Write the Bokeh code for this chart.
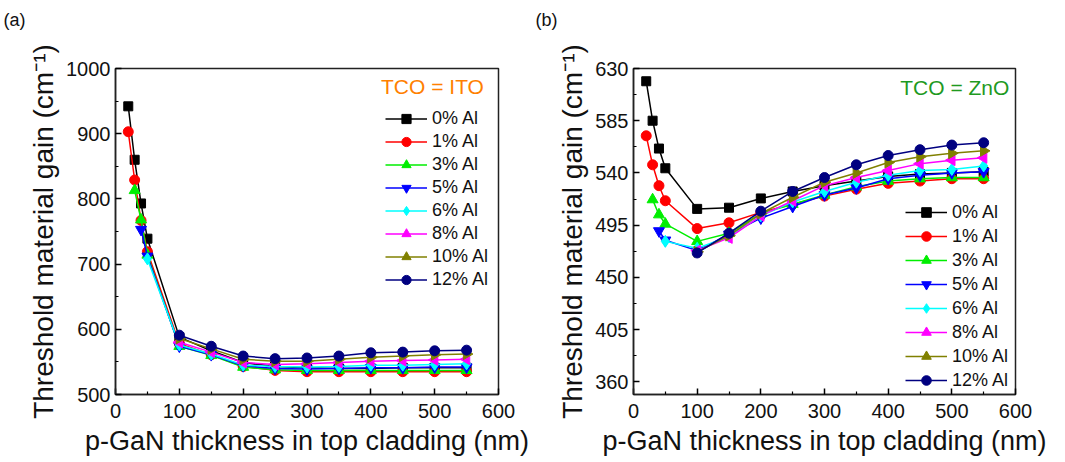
import math
from bokeh.plotting import figure
from bokeh.layouts import row
from bokeh.models import FixedTicker, Legend, LegendItem, Label, Range1d, Title
from bokeh.embed import file_html
from bokeh.resources import INLINE

# ---------------- data ----------------
thickness = [20, 30, 40, 50, 100, 150, 200, 250, 300, 350, 400, 450, 500, 550]
series_labels = ["0% Al", "1% Al", "3% Al", "5% Al", "6% Al", "8% Al", "10% Al", "12% Al"]

# (a) TCO = ITO
ito_0 = [942, 860, 793, 739, 588, 567, 549, 543, 541, 540, 540, 541, 541, 541]
ito_1 = [903, 829, 767, 719, 578, 561, 543, 537, 535, 535, 535, 535, 535, 535]
ito_3 = [813, 768, 714, 574, 560, 542, 538, 537, 537, 537, 537, 537, 537]
ito_5 = [753, 712, 574, 561, 544, 540, 539, 540, 541, 541, 542, 542]
ito_6 = [708, 576, 562, 545, 543, 542, 543, 545, 545, 546, 547]
ito_8 = [580, 565, 549, 546, 547, 549, 551, 552, 553, 554]
ito_10 = [586, 570, 554, 551, 551, 554, 557, 559, 561, 562]
ito_12 = [591, 574, 559, 555, 556, 559, 564, 565, 567, 568]

# (b) TCO = ZnO
zno_0 = [619, 585, 561, 544, 509, 510, 518, 524, 529, 533, 537, 539, 540, 541]
zno_1 = [572, 547, 529, 516, 492, 497, 506, 513, 520, 526, 531, 533, 535, 535]
zno_3 = [517, 504, 496, 481, 488, 505, 513, 521, 528, 533, 535, 536, 536]
zno_5 = [490, 482, 473, 487, 501, 511, 521, 527, 535, 538, 540, 541]
zno_6 = [481, 475, 485, 503, 515, 524, 532, 538, 542, 543, 546]
zno_8 = [473, 484, 503, 516, 529, 536, 542, 548, 551, 553]
zno_10 = [472, 486, 505, 519, 532, 540, 549, 554, 557, 559]
zno_12 = [471, 488, 507, 524, 536, 547, 555, 560, 564, 566]

x_ticks = [0, 100, 200, 300, 400, 500, 600]
x_minor = [50, 150, 250, 350, 450, 550]
ito_y_ticks = [500, 600, 700, 800, 900, 1000]
ito_y_minor = [550, 650, 750, 850, 950]
zno_y_ticks = [360, 405, 450, 495, 540, 585, 630]
zno_y_minor = [382.5, 427.5, 472.5, 517.5, 562.5, 607.5]

# ---------------- styling ----------------
colors = ["#000000", "#ff0000", "#00ee00", "#0000ff", "#00ffff", "#ff00ff", "#808000", "#000080"]
markers = ["square", "circle", "triangle", "inverted_triangle", "diamond", "triangle", "triangle", "circle"]
angles = [0, 0, 0, 0, 0, math.pi / 2, -math.pi / 2, 0]
sizes = [9, 10, 11, 11, 12, 11, 11, 10]
FONT = "Liberation Sans"


def make_panel(series, y_range, y_ticks, y_minor, frame_w, border_left, border_right, tag,
               title, title_color, title_xy, leg_loc, leg_h):
    p = figure(width=border_left + frame_w + border_right, height=462,
               x_range=Range1d(0, 600), y_range=Range1d(*y_range),
               output_backend="svg", toolbar_location=None,
               min_border_left=border_left, min_border_right=border_right,
               min_border_top=68, min_border_bottom=68)
    p.xgrid.visible = False
    p.ygrid.visible = False
    p.outline_line_color = "#222222"
    p.outline_line_width = 1.5
    p.background_fill_color = "white"
    p.border_fill_color = "white"

    p.title.visible = False
    # spacer (closest to the frame) then the panel tag above it
    p.add_layout(Title(text=" ", text_font=FONT, text_font_size="18px", standoff=12), "above")
    p.add_layout(Title(text=tag, align="left", offset=-(border_left - 3), standoff=10,
                       text_font=FONT, text_font_size="18px", text_font_style="normal",
                       text_color="#111111"), "above")

    p.xaxis.ticker = FixedTicker(ticks=x_ticks, minor_ticks=x_minor)
    p.yaxis.ticker = FixedTicker(ticks=y_ticks, minor_ticks=y_minor)
    for ax in (p.xaxis[0], p.yaxis[0]):
        ax.major_tick_in = 6
        ax.major_tick_out = 0
        ax.minor_tick_in = 3
        ax.minor_tick_out = 0
        ax.axis_line_width = 1.5
        ax.axis_line_color = "#222222"
        ax.major_tick_line_width = 1.5
        ax.minor_tick_line_width = 1.2
        ax.major_label_text_font = FONT
        ax.major_label_text_font_size = "20px"
        ax.major_label_text_color = "#111111"
        ax.axis_label_text_font = FONT
        ax.axis_label_text_font_style = "normal"
        ax.axis_label_text_color = "#111111"
    p.xaxis.axis_label = "p-GaN thickness in top cladding (nm)"
    p.xaxis.axis_label_text_font_size = "27px"
    p.xaxis.major_label_standoff = 9
    p.xaxis.axis_label_standoff = 5
    p.yaxis.axis_label = "Threshold material gain (cm\u207b\u00b9)"
    p.yaxis.axis_label_text_font_size = "28px"
    p.yaxis.major_label_standoff = 5
    p.yaxis.axis_label_standoff = 4

    items = []
    for i, vals in enumerate(series):
        xs = thickness[len(thickness) - len(vals):]
        lr = p.line(xs, vals, line_color=colors[i], line_width=1.5)
        sr = p.scatter(xs, vals, marker=markers[i], size=sizes[i], angle=angles[i],
                       fill_color=colors[i], line_color=colors[i])
        items.append(LegendItem(label=series_labels[i], renderers=[lr, sr]))

    leg = Legend(items=items, location=leg_loc)
    leg.label_text_font = FONT
    leg.label_text_font_size = "18px"
    leg.label_text_color = "#111111"
    leg.glyph_width = 42
    leg.glyph_height = leg_h
    leg.label_height = leg_h
    leg.label_standoff = 5
    leg.spacing = 0
    leg.padding = 0
    leg.margin = 0
    leg.border_line_color = None
    leg.background_fill_alpha = 0
    p.add_layout(leg)

    p.add_layout(Label(x=title_xy[0], y=title_xy[1], text=title, text_color=title_color,
                       text_font=FONT, text_font_size="21px",
                       text_align="left", text_baseline="middle"))
    return p


pa = make_panel([ito_0, ito_1, ito_3, ito_5, ito_6, ito_8, ito_10, ito_12],
                (500, 1000), ito_y_ticks, ito_y_minor, 383, 115, 34, "(a)",
                "TCO = ITO", "#ff8000", (416, 972), (270, 103), 23)
pb = make_panel([zno_0, zno_1, zno_3, zno_5, zno_6, zno_8, zno_10, zno_12],
                (349, 630), zno_y_ticks, zno_y_minor, 382, 101, 40, "(b)",
                "TCO = ZnO", "#1f9a1f", (419, 614), (272, 2), 24)

layout = row(pa, pb)
open("out.html", "w").write(file_html(layout, INLINE))
